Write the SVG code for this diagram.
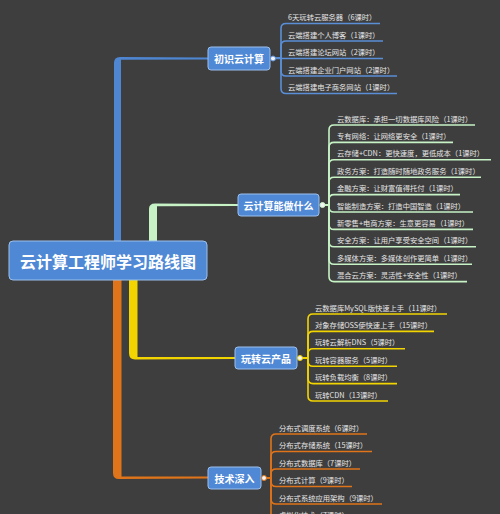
<svg xmlns="http://www.w3.org/2000/svg" width="500" height="514" viewBox="0 0 500 514">
<style>
.bg{fill:#3e3e3e}
.node rect{fill:#4f88d5;stroke:#9cc0ee;stroke-width:1}
.node text{fill:#ffffff;font-family:"Noto Sans CJK SC","Noto Sans",sans-serif;font-weight:bold;text-anchor:middle;dominant-baseline:central}
.lbl{fill:#e6e6e6;font-family:"Noto Sans CJK SC","Noto Sans",sans-serif;font-size:7.3px}
.b{stroke:#5a8fd8}.g{stroke:#c6f2c6}.y{stroke:#f2d400}.o{stroke:#e0741a}
.br{fill:none;stroke-width:1.6}
.dot{fill:#f4f4f4;stroke-width:1}
</style>
<rect class="bg" x="0" y="0" width="500" height="514"/>
<g id="connectors">
<path fill="#4f86d2" d="M114,242 L114,63 Q114,57 120,57 L208,57.5 L208,59.5 L121,59.8 L121,242 Z"/>
<path fill="#c6f2c6" d="M149,242 L149,209 Q149,203.5 155,203.5 L238,204 L238,206 L157,206.2 L157,242 Z"/>
<path fill="#f2d400" d="M129,279 L129,353 Q129,359.5 135,359.5 L235,359 L235,357 L137.5,357 L137.5,279 Z"/>
<path fill="#e0741a" d="M113,279 L113,473 Q113,479 119,479 L208,478.5 L208,476.5 L121.5,476.5 L121.5,279 Z"/>
<g class="br b">
<path d="M273,58 H281 V28.5 Q281,23.5 286,23.5 H380"/>
<path d="M273,58 H281 V46 Q281,41 286,41 H383"/>
<path d="M273,58.5 H383"/>
<path d="M273,58 H281 V71 Q281,76 286,76 H397"/>
<path d="M273,58 H281 V88.5 Q281,93.5 286,93.5 H397"/>
</g>
<g class="br g">
<path d="M323,205 H329 V130 Q329,125 334,125 H475"/>
<path d="M323,205 H329 V147.4 Q329,142.4 334,142.4 H453"/>
<path d="M323,205 H329 V164.8 Q329,159.8 334,159.8 H491"/>
<path d="M323,205 H329 V182.2 Q329,177.2 334,177.2 H481"/>
<path d="M323,205 H329 V199.6 Q329,194.6 334,194.6 H460"/>
<path d="M323,205 H329 V207 Q329,212 334,212 H473"/>
<path d="M323,205 H329 V224.4 Q329,229.4 334,229.4 H473"/>
<path d="M323,205 H329 V241.8 Q329,246.8 334,246.8 H476"/>
<path d="M323,205 H329 V259.2 Q329,264.2 334,264.2 H472"/>
<path d="M323,205 H329 V276.6 Q329,281.6 334,281.6 H467"/>
</g>
<g class="br y">
<path d="M301,358 H308 V319 Q308,314 313,314 H447"/>
<path d="M301,358 H308 V336.4 Q308,331.4 313,331.4 H434"/>
<path d="M301,358 H308 V353.8 Q308,348.8 313,348.8 H405"/>
<path d="M301,358 H308 V361.2 Q308,366.2 313,366.2 H397"/>
<path d="M301,358 H308 V378.6 Q308,383.6 313,383.6 H397"/>
<path d="M301,358 H308 V396 Q308,401 313,401 H388"/>
</g>
<g class="br o">
<path d="M265,478 H271 V439 Q271,434 276,434 H367"/>
<path d="M265,478 H271 V456.5 Q271,451.5 276,451.5 H372"/>
<path d="M265,478 H271 V474 Q271,469 276,469 H360"/>
<path d="M265,478 H271 V481.5 Q271,486.5 276,486.5 H352"/>
<path d="M265,478 H271 V499 Q271,504 276,504 H382"/>
<path d="M265,478 H271 V516.5 Q271,521.5 276,521.5 H360"/>
</g>
</g>
<g id="n0" class="node"><rect x="9" y="241" width="198" height="39" rx="4"/><text x="108" y="261" font-size="16">云计算工程师学习路线图</text></g>
<g id="n1" class="node"><rect x="208" y="47" width="62" height="23" rx="3"/><text x="239" y="58.5" font-size="10">初识云计算</text></g>
<g id="n2" class="node"><rect x="238" y="194" width="81" height="22" rx="3"/><text x="278.5" y="205" font-size="10">云计算能做什么</text></g>
<g id="n3" class="node"><rect x="235" y="347" width="62" height="22" rx="3"/><text x="266" y="358" font-size="10">玩转云产品</text></g>
<g id="n4" class="node"><rect x="208" y="467" width="53" height="22" rx="3"/><text x="234.5" y="478" font-size="10">技术深入</text></g>
<g id="dots">
<circle class="dot b" cx="273" cy="58.5" r="2.5"/>
<circle class="dot g" cx="322.5" cy="205" r="2.5"/>
<circle class="dot y" cx="300" cy="358" r="2.5"/>
<circle class="dot o" cx="264" cy="478" r="2.5"/>
</g>
<g id="c1" class="lbl">
<text x="288" y="20">6天玩转云服务器（6课时）</text>
<text x="288" y="37.5">云端搭建个人博客（1课时）</text>
<text x="288" y="55">云端搭建论坛网站（2课时）</text>
<text x="288" y="72.5">云端搭建企业门户网站（2课时）</text>
<text x="288" y="90">云端搭建电子商务网站（1课时）</text>
</g>
<g id="c2" class="lbl">
<text x="337" y="121.5">云数据库：承担一切数据库风险（1课时）</text>
<text x="337" y="138.9">专有网络：让网络更安全（1课时）</text>
<text x="337" y="156.3">云存储+CDN：更快速度，更低成本（1课时）</text>
<text x="337" y="173.7">政务方案：打造随时随地政务服务（1课时）</text>
<text x="337" y="191.1">金融方案：让财富值得托付（1课时）</text>
<text x="337" y="208.5">智能制造方案：打造中国智造（1课时）</text>
<text x="337" y="225.9">新零售+电商方案：生意更容易（1课时）</text>
<text x="337" y="243.3">安全方案：让用户享受安全空间（1课时）</text>
<text x="337" y="260.7">多媒体方案：多媒体创作更简单（1课时）</text>
<text x="337" y="278.1">混合云方案：灵活性+安全性（1课时）</text>
</g>
<g id="c3" class="lbl">
<text x="315" y="310.5">云数据库MySQL版快速上手（11课时）</text>
<text x="315" y="327.9">对象存储OSS使快速上手（15课时）</text>
<text x="315" y="345.3">玩转云解析DNS（5课时）</text>
<text x="315" y="362.7">玩转容器服务（5课时）</text>
<text x="315" y="380.1">玩转负载均衡（8课时）</text>
<text x="315" y="397.5">玩转CDN（13课时）</text>
</g>
<g id="c4" class="lbl">
<text x="279" y="430.5">分布式调度系统（6课时）</text>
<text x="279" y="448">分布式存储系统（15课时）</text>
<text x="279" y="465.5">分布式数据库（7课时）</text>
<text x="279" y="483">分布式计算（9课时）</text>
<text x="279" y="500.5">分布式系统应用架构（9课时）</text>
<text x="279" y="518">虚拟化技术（7课时）</text>
</g>
</svg>
